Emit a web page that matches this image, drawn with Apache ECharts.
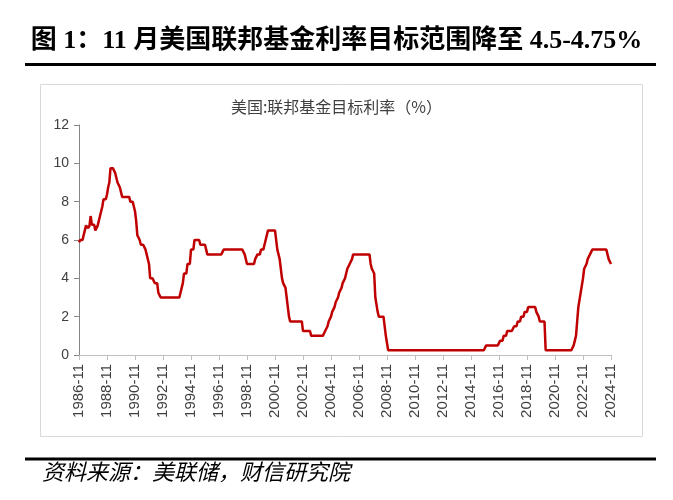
<!DOCTYPE html>
<html><head><meta charset="utf-8">
<script src="https://cdn.jsdelivr.net/npm/echarts@6/dist/echarts.min.js"></script>
<style>html,body{margin:0;padding:0;background:#fff;}#c{width:673px;height:500px;}</style>
</head><body><div id="c"></div>
<script>
const startYear = 1986, startMonth = 11, endYear = 2024, endMonth = 11;
// Monthly fed funds target rate (upper bound), month-end, %
const r1986 = [5.875, 6.0]; // Nov, Dec
const r1987 = [6.0, 6.0, 6.0, 6.5, 6.75, 6.75, 6.625, 6.75, 7.25, 6.8, 6.8, 6.8];
const r1988 = [6.5, 6.5, 6.75, 6.75, 7.25, 7.5, 7.75, 8.125, 8.125, 8.125, 8.375, 8.75];
const r1989 = [9.0, 9.75, 9.75, 9.75, 9.75, 9.5, 9.25, 9.0, 9.0, 8.75, 8.5, 8.25];
const r1990 = [8.25, 8.25, 8.25, 8.25, 8.25, 8.25, 8.0, 8.0, 8.0, 7.75, 7.5, 7.0];
const r1991 = [6.25, 6.25, 6.0, 5.75, 5.75, 5.75, 5.75, 5.5, 5.25, 5.0, 4.75, 4.0];
const r1992 = [4.0, 4.0, 4.0, 3.75, 3.75, 3.75, 3.25, 3.25, 3.0, 3.0, 3.0, 3.0];
const r1993 = [3.0, 3.0, 3.0, 3.0, 3.0, 3.0, 3.0, 3.0, 3.0, 3.0, 3.0, 3.0];
const r1994 = [3.0, 3.25, 3.5, 3.75, 4.25, 4.25, 4.25, 4.75, 4.75, 4.75, 5.5, 5.5];
const r1995 = [5.5, 6.0, 6.0, 6.0, 6.0, 6.0, 5.75, 5.75, 5.75, 5.75, 5.75, 5.5];
const r1996 = [5.25, 5.25, 5.25, 5.25, 5.25, 5.25, 5.25, 5.25, 5.25, 5.25, 5.25, 5.25];
const r1997 = [5.25, 5.25, 5.5, 5.5, 5.5, 5.5, 5.5, 5.5, 5.5, 5.5, 5.5, 5.5];
const r1998 = [5.5, 5.5, 5.5, 5.5, 5.5, 5.5, 5.5, 5.5, 5.25, 5.0, 4.75, 4.75];
const r1999 = [4.75, 4.75, 4.75, 4.75, 4.75, 5.0, 5.0, 5.25, 5.25, 5.25, 5.5, 5.5];
const r2000 = [5.5, 5.75, 6.0, 6.0, 6.5, 6.5, 6.5, 6.5, 6.5, 6.5, 6.5, 6.5];
const r2001 = [5.5, 5.5, 5.0, 4.5, 4.0, 3.75, 3.75, 3.5, 3.0, 2.5, 2.0, 1.75];
const r2002 = [1.75, 1.75, 1.75, 1.75, 1.75, 1.75, 1.75, 1.75, 1.75, 1.75, 1.25, 1.25];
const r2003 = [1.25, 1.25, 1.25, 1.25, 1.25, 1.0, 1.0, 1.0, 1.0, 1.0, 1.0, 1.0];
const r2004 = [1.0, 1.0, 1.0, 1.0, 1.0, 1.25, 1.25, 1.5, 1.75, 1.75, 2.0, 2.25];
const r2005 = [2.25, 2.5, 2.75, 2.75, 3.0, 3.25, 3.25, 3.5, 3.75, 3.75, 4.0, 4.25];
const r2006 = [4.5, 4.5, 4.75, 4.75, 5.0, 5.25, 5.25, 5.25, 5.25, 5.25, 5.25, 5.25];
const r2007 = [5.25, 5.25, 5.25, 5.25, 5.25, 5.25, 5.25, 5.25, 4.75, 4.5, 4.5, 4.25];
const r2008 = [3.0, 3.0, 2.25, 2.0, 2.0, 2.0, 2.0, 2.0, 2.0, 1.0, 1.0, 0.25];
const r2009 = [0.25, 0.25, 0.25, 0.25, 0.25, 0.25, 0.25, 0.25, 0.25, 0.25, 0.25, 0.25];
const r2010 = [0.25, 0.25, 0.25, 0.25, 0.25, 0.25, 0.25, 0.25, 0.25, 0.25, 0.25, 0.25];
const r2011 = [0.25, 0.25, 0.25, 0.25, 0.25, 0.25, 0.25, 0.25, 0.25, 0.25, 0.25, 0.25];
const r2012 = [0.25, 0.25, 0.25, 0.25, 0.25, 0.25, 0.25, 0.25, 0.25, 0.25, 0.25, 0.25];
const r2013 = [0.25, 0.25, 0.25, 0.25, 0.25, 0.25, 0.25, 0.25, 0.25, 0.25, 0.25, 0.25];
const r2014 = [0.25, 0.25, 0.25, 0.25, 0.25, 0.25, 0.25, 0.25, 0.25, 0.25, 0.25, 0.25];
const r2015 = [0.25, 0.25, 0.25, 0.25, 0.25, 0.25, 0.25, 0.25, 0.25, 0.25, 0.25, 0.5];
const r2016 = [0.5, 0.5, 0.5, 0.5, 0.5, 0.5, 0.5, 0.5, 0.5, 0.5, 0.5, 0.75];
const r2017 = [0.75, 0.75, 1.0, 1.0, 1.0, 1.25, 1.25, 1.25, 1.25, 1.25, 1.25, 1.5];
const r2018 = [1.5, 1.5, 1.75, 1.75, 1.75, 2.0, 2.0, 2.0, 2.25, 2.25, 2.25, 2.5];
const r2019 = [2.5, 2.5, 2.5, 2.5, 2.5, 2.5, 2.25, 2.25, 2.0, 1.75, 1.75, 1.75];
const r2020 = [1.75, 1.75, 0.25, 0.25, 0.25, 0.25, 0.25, 0.25, 0.25, 0.25, 0.25, 0.25];
const r2021 = [0.25, 0.25, 0.25, 0.25, 0.25, 0.25, 0.25, 0.25, 0.25, 0.25, 0.25, 0.25];
const r2022 = [0.25, 0.25, 0.5, 0.5, 1.0, 1.75, 2.5, 2.5, 3.25, 3.25, 4.0, 4.5];
const r2023 = [4.5, 4.75, 5.0, 5.0, 5.25, 5.25, 5.5, 5.5, 5.5, 5.5, 5.5, 5.5];
const r2024 = [5.5, 5.5, 5.5, 5.5, 5.5, 5.5, 5.5, 5.5, 5.0, 5.0, 4.75]; // Jan..Nov

const yTicks = [0, 2, 4, 6, 8, 10, 12];
const chartTitle = '美国:联邦基金目标利率（%）';
const figTitle = '图 1：11 月美国联邦基金利率目标范围降至 4.5-4.75%';
const sourceText = '资料来源：美联储，财信研究院';

const rates = [].concat(r1986, r1987, r1988, r1989, r1990, r1991, r1992, r1993, r1994, r1995,
  r1996, r1997, r1998, r1999, r2000, r2001, r2002, r2003, r2004, r2005, r2006, r2007, r2008,
  r2009, r2010, r2011, r2012, r2013, r2014, r2015, r2016, r2017, r2018, r2019, r2020, r2021,
  r2022, r2023, r2024);
const months = [];
for (let y = startYear, m = startMonth; y < endYear || (y === endYear && m <= endMonth);) {
  months.push(y + '-' + (m < 10 ? '0' + m : m));
  m++; if (m > 12) { m = 1; y++; }
}

const chart = echarts.init(document.getElementById('c'));
chart.setOption({
  animation: false,
  backgroundColor: '#fff',
  graphic: [
    { type: 'text', left: 'center', top: 28, style: { text: figTitle, font: 'bold 26px "Liberation Serif", "Noto Sans CJK SC"', fill: '#000' } },
    { type: 'rect', shape: { x: 25, y: 63, width: 631, height: 3 }, style: { fill: '#000' } },
    { type: 'rect', shape: { x: 40.5, y: 84.5, width: 602, height: 352 }, style: { fill: 'none', stroke: '#d9d9d9', lineWidth: 1 } },
    { type: 'rect', shape: { x: 25, y: 457.5, width: 631, height: 3 }, style: { fill: '#000' } },
    { type: 'text', left: 42, top: 461, style: { text: sourceText, font: 'italic 22px "Noto Sans CJK SC"', fill: '#000' } }
  ],
  title: {
    text: chartTitle, left: 'center', top: 94,
    textStyle: { fontSize: 16, fontWeight: 'normal', color: '#404040', fontFamily: '"Noto Sans CJK SC", sans-serif' }
  },
  grid: { left: 79, right: 62, top: 125, bottom: 145, containLabel: false },
  xAxis: {
    type: 'category', data: months, boundaryGap: false,
    axisLine: { lineStyle: { color: '#bfbfbf', width: 1 } },
    axisTick: { interval: 23, length: 5, lineStyle: { color: '#bfbfbf' } },
    axisLabel: { interval: 23, rotate: 90, fontSize: 15, color: '#404040', fontFamily: '"Liberation Sans", sans-serif', margin: 9 },
    splitLine: { show: false }
  },
  yAxis: {
    type: 'value', min: 0, max: 12, interval: 2,
    axisLine: { show: true, lineStyle: { color: '#868686', width: 1 } },
    axisTick: { show: true, length: 5, lineStyle: { color: '#868686' } },
    axisLabel: { fontSize: 14, color: '#404040', fontFamily: '"Liberation Sans", sans-serif', margin: 10 },
    splitLine: { show: false }
  },
  series: [{
    type: 'line', data: rates, showSymbol: false, symbol: 'none',
    lineStyle: { color: '#c00000', width: 2.5 }
  }]
});
</script></body></html>
